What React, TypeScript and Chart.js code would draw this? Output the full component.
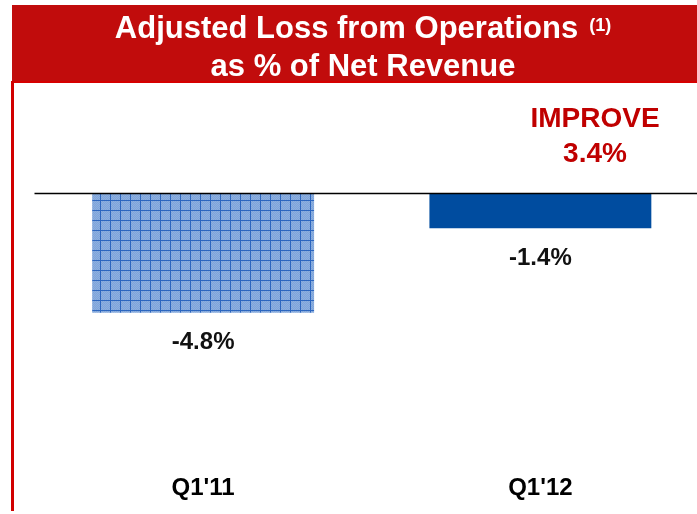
import React, { useEffect, useRef } from "react";
import { Chart, registerables } from "chart.js";

Chart.register(...registerables);

const categories = ["Q1'11", "Q1'12"];
const values = [-4.8, -1.4];
const valueLabels = ["-4.8%", "-1.4%"];
const titleLine1 = "Adjusted Loss from Operations";
const titleNote = "(1)";
const titleLine2 = "as % of Net Revenue";
const calloutLines = ["IMPROVE", "3.4%"];

const FONT = "'Liberation Sans', Arial, Helvetica, sans-serif";

function makeGridPattern(ctx: CanvasRenderingContext2D): CanvasPattern | string {
  const c = document.createElement("canvas");
  c.width = 10;
  c.height = 10;
  const p = c.getContext("2d");
  if (!p) return "#80a5da";
  p.fillStyle = "#7fa4d9";
  p.fillRect(0, 0, 10, 10);
  for (let y = 0; y < 10; y++) {
    for (let x = 0; x < 10; x++) {
      if ((x + y) % 2 === 0) {
        p.fillStyle = "#8db0e0";
        p.fillRect(x, y, 1, 1);
      }
    }
  }
  p.fillStyle = "#2c66bf";
  p.fillRect(0, 0, 10, 1);
  p.fillRect(0, 0, 1, 10);
  return ctx.createPattern(c, "repeat") || "#80a5da";
}

const decorPlugin = {
  id: "decor",
  beforeDraw(chart: any) {
    const ctx: CanvasRenderingContext2D = chart.ctx;
    ctx.save();
    ctx.fillStyle = "#ffffff";
    ctx.fillRect(0, 0, chart.width, chart.height);
    // header band
    ctx.fillStyle = "#c10c0c";
    ctx.fillRect(12, 5, chart.width - 12, 77);
    ctx.fillStyle = "#d60000";
    ctx.fillRect(12, 81, chart.width - 12, 2);
    // left red rule
    ctx.fillStyle = "#d10000";
    ctx.fillRect(11, 81, 3, 430);

    // title
    const cx = 363;
    ctx.fillStyle = "#ffffff";
    ctx.textBaseline = "alphabetic";
    ctx.textAlign = "left";
    ctx.font = `bold 31px ${FONT}`;
    const mainW = ctx.measureText(titleLine1).width;
    ctx.font = `bold 18px ${FONT}`;
    const noteW = ctx.measureText(titleNote).width;
    const gap = 11;
    const start = cx - (mainW + gap + noteW) / 2;
    ctx.font = `bold 31px ${FONT}`;
    ctx.fillText(titleLine1, start, 38);
    ctx.font = `bold 18px ${FONT}`;
    ctx.fillText(titleNote, start + mainW + gap, 31);
    ctx.font = `bold 31px ${FONT}`;
    ctx.textAlign = "center";
    ctx.fillText(titleLine2, cx, 76);

    // callout
    ctx.fillStyle = "#c00000";
    ctx.font = `bold 28px ${FONT}`;
    ctx.fillText(calloutLines[0], 595, 127);
    ctx.fillText(calloutLines[1], 595, 162);
    ctx.restore();
  },
  afterDatasetsDraw(chart: any) {
    const ctx: CanvasRenderingContext2D = chart.ctx;
    const area = chart.chartArea;
    const yScale = chart.scales.y;
    const y0 = Math.round(yScale.getPixelForValue(0)) - 0.5;
    ctx.save();
    ctx.strokeStyle = "#000000";
    ctx.lineWidth = 1.3;
    ctx.beginPath();
    ctx.moveTo(area.left, y0);
    ctx.lineTo(area.right, y0);
    ctx.stroke();

    const meta = chart.getDatasetMeta(0);
    ctx.fillStyle = "#111111";
    ctx.font = `bold 24px ${FONT}`;
    ctx.textAlign = "center";
    ctx.textBaseline = "middle";
    meta.data.forEach((el: any, i: number) => {
      ctx.fillText(valueLabels[i], el.x, el.y + 30);
    });
    ctx.restore();
  },
};

export default function App() {
  const ref = useRef<HTMLCanvasElement | null>(null);

  useEffect(() => {
    const canvas = ref.current;
    if (!canvas) return;
    const ctx = canvas.getContext("2d");
    if (!ctx) return;
    const pattern = makeGridPattern(ctx);
    const chart = new Chart(canvas, {
      type: "bar",
      data: {
        labels: categories,
        datasets: [
          {
            data: values,
            backgroundColor: [pattern, "#004c9f"],
            borderWidth: 0,
            barPercentage: 0.658,
            categoryPercentage: 1,
          },
        ],
      },
      options: {
        responsive: false,
        animation: false,
        devicePixelRatio: 1,
        layout: { padding: { left: 34.5, right: 0, top: 193.5, bottom: 3.6 } },
        plugins: {
          legend: { display: false },
          tooltip: { enabled: false },
          title: { display: false },
        },
        scales: {
          x: {
            grid: { display: false, drawTicks: false },
            border: { display: false },
            ticks: {
              color: "#000000",
              padding: 7.4,
              font: { family: FONT, size: 24, weight: "bold" },
            },
          },
          y: { display: false, min: -11, max: 0 },
        },
      },
      plugins: [decorPlugin],
    } as any);
    return () => chart.destroy();
  }, []);

  return (
    <div
      style={{
        position: "absolute",
        left: 0,
        top: 0,
        width: 697,
        height: 514,
        overflow: "hidden",
        background: "#ffffff",
      }}
    >
      <canvas ref={ref} width={709} height={514} style={{ display: "block" }} />
    </div>
  );
}
